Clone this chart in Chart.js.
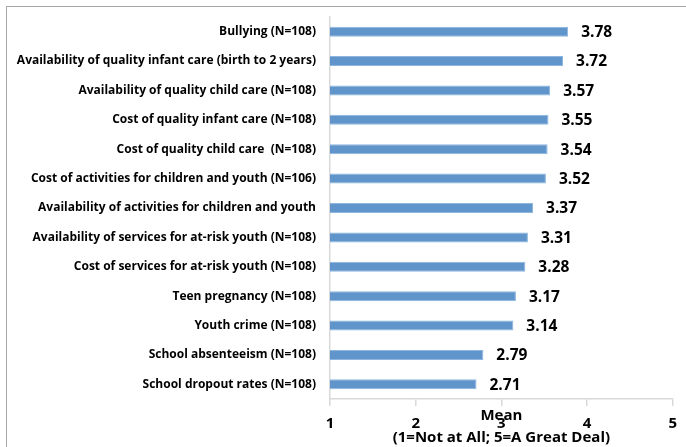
<!DOCTYPE html>
<html>
<head>
<meta charset="utf-8">
<script src="https://cdn.jsdelivr.net/npm/chart.js@4"></script>
<style>
  body { margin: 0; background: #fff; }
  #wrap { position: relative; width: 686px; height: 447px; }
  #frame { position: absolute; left: 6px; top: 6px; right: 0; bottom: 0;
           border-top: 1.5px solid #a6a6a6; border-left: 1.5px solid #a6a6a6; }
  canvas { position: absolute; left: 0; top: 0; }
</style>
</head>
<body>
<div id="wrap">
  <div id="frame"></div>
  <canvas id="myChart" width="686" height="447"></canvas>
</div>
<script>
const categories = [
    'Bullying (N=108)',
    'Availability of quality infant care (birth to 2 years)',
    'Availability of quality child care (N=108)',
    'Cost of quality infant care (N=108)',
    'Cost of quality child care  (N=108)',
    'Cost of activities for children and youth (N=106)',
    'Availability of activities for children and youth',
    'Availability of services for at-risk youth (N=108)',
    'Cost of services for at-risk youth (N=108)',
    'Teen pregnancy (N=108)',
    'Youth crime (N=108)',
    'School absenteeism (N=108)',
    'School dropout rates (N=108)'
];
const means = [3.78, 3.72, 3.57, 3.55, 3.54, 3.52, 3.37, 3.31, 3.28, 3.17, 3.14, 2.79, 2.71];
const xTicks = [1, 2, 3, 4, 5];
const axisTitle = ['Mean', '(1=Not at All; 5=A Great Deal)'];

const fontFamily = '"Open Sans", "Liberation Sans", sans-serif';

// value labels right of each bar
const valueLabels = {
    id: 'valueLabels',
    afterDatasetsDraw(chart) {
        const ctx = chart.ctx;
        const meta = chart.getDatasetMeta(0);
        ctx.save();
        ctx.font = 'bold 15.5px ' + fontFamily;
        ctx.fillStyle = '#000';
        ctx.textBaseline = 'middle';
        ctx.textAlign = 'left';
        meta.data.forEach((bar, i) => {
            ctx.fillText(means[i].toFixed(2), bar.x + 13, bar.y + 1);
        });
        ctx.restore();
    }
};

// axis title drawn over the tick labels, like the original
const xTitle = {
    id: 'xTitle',
    afterDraw(chart) {
        const ctx = chart.ctx;
        const x = chart.scales.x;
        const cx = (x.left + x.right) / 2;
        ctx.save();
        ctx.font = 'bold 15px ' + fontFamily;
        ctx.fillStyle = '#000';
        ctx.textAlign = 'center';
        ctx.textBaseline = 'middle';
        ctx.fillText(axisTitle[0], cx, x.top + 17);
        ctx.fillText(axisTitle[1], cx, x.top + 39);
        ctx.restore();
    }
};

const ctx = document.getElementById('myChart').getContext('2d');
new Chart(ctx, {
    type: 'bar',
    data: {
        labels: categories,
        datasets: [{
            data: means,
            backgroundColor: '#5F95CB',
            borderColor: '#8DB5DD',
            borderWidth: 1,
            barPercentage: 0.34,
            categoryPercentage: 1
        }]
    },
    options: {
        indexAxis: 'y',
        responsive: false,
        animation: false,
        layout: { padding: { top: 17, right: 12, left: 0, bottom: 0 } },
        plugins: {
            legend: { display: false },
            tooltip: { enabled: false }
        },
        scales: {
            x: {
                min: 1,
                max: 5,
                afterBuildTicks(scale) {
                    scale.ticks = xTicks.map(v => ({ value: v }));
                },
                afterFit(scale) { scale.height = 48; },
                grid: {
                    drawOnChartArea: false,
                    drawTicks: true,
                    tickLength: 7,
                    color: '#d9d9d9',
                    lineWidth: 1.5
                },
                border: { color: '#d9d9d9', width: 1.5 },
                ticks: {
                    padding: 9,
                    color: '#000',
                    font: { family: fontFamily, size: 15, weight: 'bold' }
                }
            },
            y: {
                afterFit(scale) { scale.width = 330; },
                grid: { display: false },
                border: { color: '#d9d9d9', width: 1.5 },
                ticks: {
                    padding: 6,
                    color: '#000',
                    autoSkip: false,
                    font: { family: fontFamily, size: 12, weight: 'bold' }
                }
            }
        }
    },
    plugins: [valueLabels, xTitle]
});
</script>
</body>
</html>
